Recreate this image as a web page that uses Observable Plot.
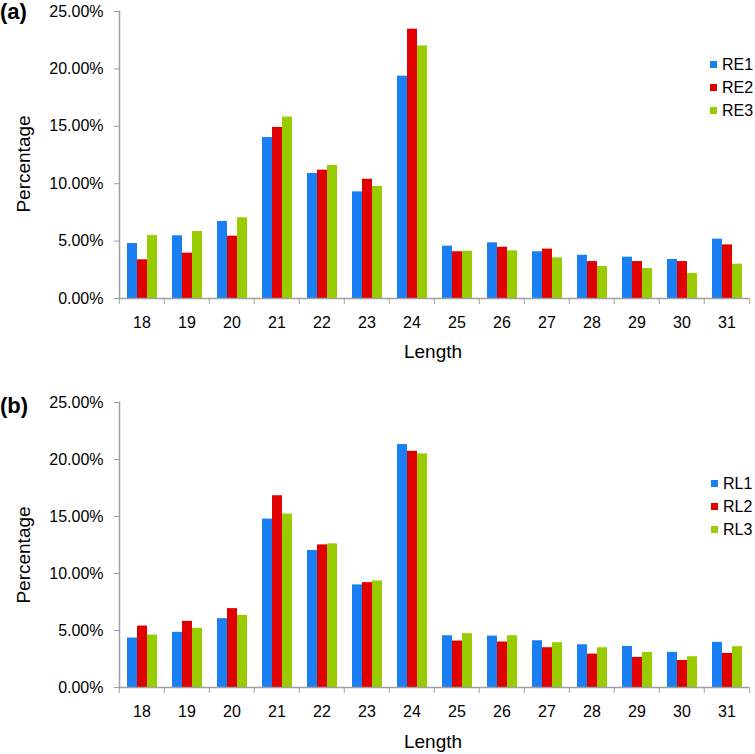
<!DOCTYPE html>
<html><head><meta charset="utf-8">
<script src="https://cdn.jsdelivr.net/npm/d3@7"></script>
<script src="https://cdn.jsdelivr.net/npm/@observablehq/plot@0.6"></script>
<style>
body{margin:0;background:#fff;font-family:"Liberation Sans",Arial,sans-serif;color:#000;}
#wrap{position:relative;width:755px;height:754px;overflow:hidden;}
.panel{position:absolute;left:0;width:755px;}
.lbl{position:absolute;white-space:nowrap;line-height:1;}
.tag{font-weight:bold;font-size:22px;line-height:1.1;}
.ytitle{font-size:19px;transform:translate(-50%,-50%) rotate(-90deg);}
.xtitle{font-size:19px;transform:translate(-50%,-50%);}
.leg{position:absolute;font-size:16px;line-height:1;}
.leg div{display:flex;align-items:center;height:23px;}
.leg span.sw{display:inline-block;width:7px;height:7px;margin-right:5px;}
</style></head><body><div id="wrap"></div>
<script>
const lengths = ["18","19","20","21","22","23","24","25","26","27","28","29","30","31"];
const seriesA = ["RE1","RE2","RE3"];
const re1 = [4.79,5.46,6.71,14.02,10.89,9.29,19.37,4.56,4.85,4.07,3.77,3.60,3.40,5.17];
const re2 = [3.37,3.95,5.43,14.90,11.18,10.39,23.46,4.07,4.47,4.30,3.22,3.22,3.22,4.67];
const re3 = [5.49,5.84,7.03,15.80,11.59,9.76,22.00,4.12,4.15,3.54,2.79,2.61,2.18,2.99];
const seriesB = ["RL1","RL2","RL3"];
const rl1 = [4.34,4.84,6.04,14.77,12.02,9.00,21.31,4.54,4.51,4.10,3.75,3.60,3.08,3.96];
const rl2 = [5.39,5.80,6.92,16.82,12.51,9.20,20.72,4.07,3.99,3.49,2.93,2.64,2.37,2.99];
const rl3 = [4.60,5.19,6.33,15.21,12.60,9.35,20.49,4.72,4.54,3.93,3.49,3.08,2.70,3.58];
const colors = ["#1a7ff2","#e00000","#99cc00"];
const yTicks = [0,5,10,15,20,25];
const axisColor = "#a0a0a0";

const wrap = document.getElementById("wrap");

function addLabel(cls, text, left, top) {
  const d = document.createElement("div");
  d.className = "lbl " + cls;
  d.textContent = text;
  d.style.left = left + "px";
  d.style.top = top + "px";
  wrap.appendChild(d);
}

function panel({series, values, top, height, marginTop, marginBottom, tag, tagTop, yTitleY, xTitleY, legendLeft, legendTop}) {
  const data = [];
  lengths.forEach((len, i) => series.forEach((s, j) => data.push({length: len, series: s, value: values[j][i]})));
  const step = (755 - 115 - 3) / lengths.length;
  const plot = Plot.plot({
    width: 755, height,
    marginLeft: 115, marginRight: 3, marginTop, marginBottom,
    style: {fontFamily: "'Liberation Sans', Arial, sans-serif", fontSize: "16px", color: "#000", background: "transparent", overflow: "visible"},
    fx: {domain: lengths, padding: 0, label: null},
    x: {domain: series, paddingInner: 0, paddingOuter: 0.73, axis: null},
    y: {domain: [0, 25], label: null},
    color: {domain: series, range: colors},
    marks: [
      Plot.barY(data, {fx: "length", x: "series", y: "value", fill: "series"}),
      Plot.ruleY([0], {stroke: axisColor, strokeWidth: 1.5}),
      Plot.frame({anchor: "left", facetAnchor: "left", stroke: axisColor, strokeWidth: 1.5}),
      Plot.axisY({ticks: yTicks, tickFormat: d => d.toFixed(2) + "%", tickSize: 5, tickPadding: 11, stroke: axisColor, fill: "#000", label: null, fontSize: 16}),
      Plot.axisFx({anchor: "bottom", tickSize: 0, tickPadding: 18, label: null, fill: "#000", fontSize: 16}),
      Plot.axisFx({anchor: "bottom", tickSize: 6, tickFormat: () => "", dx: -step / 2, stroke: axisColor, label: null}),
      Plot.axisFx({anchor: "bottom", ticks: [lengths[lengths.length - 1]], tickSize: 6, tickFormat: () => "", dx: step / 2, stroke: axisColor, label: null})
    ]
  });
  const holder = document.createElement("div");
  holder.className = "panel";
  holder.style.top = top + "px";
  holder.appendChild(plot);
  wrap.appendChild(holder);

  addLabel("tag", tag, 0, tagTop);
  addLabel("ytitle", "Percentage", 23, yTitleY);
  addLabel("xtitle", "Length", 433, xTitleY);

  const leg = document.createElement("div");
  leg.className = "leg";
  leg.style.left = legendLeft + "px";
  leg.style.top = legendTop + "px";
  series.forEach((s, j) => {
    const row = document.createElement("div");
    const sw = document.createElement("span");
    sw.className = "sw";
    sw.style.background = colors[j];
    const t = document.createElement("span");
    t.textContent = s;
    row.appendChild(sw); row.appendChild(t);
    leg.appendChild(row);
  });
  wrap.appendChild(leg);
}

panel({series: seriesA, values: [re1, re2, re3], top: 0, height: 370, marginTop: 11, marginBottom: 72,
  tag: "(a)", tagTop: 0, yTitleY: 164, xTitleY: 351, legendLeft: 710, legendTop: 53});
panel({series: seriesB, values: [rl1, rl2, rl3], top: 370, height: 384, marginTop: 32, marginBottom: 67,
  tag: "(b)", tagTop: 394, yTitleY: 555, xTitleY: 741, legendLeft: 711, legendTop: 472});
</script></body></html>
